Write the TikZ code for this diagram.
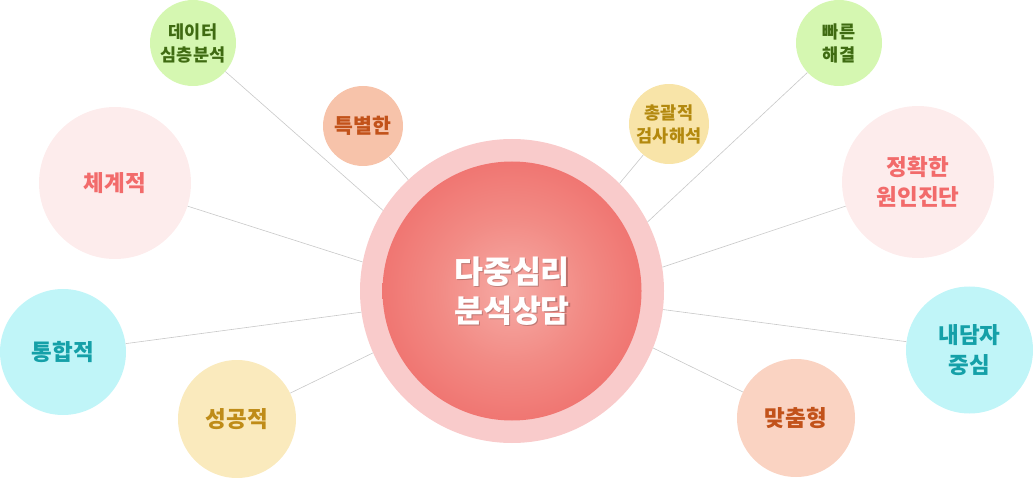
\documentclass[tikz,border=0pt]{standalone}
\usepackage{fontspec}
\setmainfont{Noto Sans CJK KR}
\definecolor{lineg}{HTML}{C8C8C8}
\definecolor{ringc}{HTML}{F9CBCB}
\definecolor{cin}{HTML}{F6ABA5}
\definecolor{cmid}{HTML}{F28B85}
\definecolor{cout}{HTML}{F07672}
\definecolor{gfill}{HTML}{D5F7B1}\definecolor{gtext}{HTML}{3F6B12}
\definecolor{ofill}{HTML}{F7C3AA}\definecolor{otext}{HTML}{C2521A}
\definecolor{o2fill}{HTML}{FAD3C2}
\definecolor{pfill}{HTML}{FDECEC}\definecolor{ptext}{HTML}{F26B6B}
\definecolor{cfill}{HTML}{C0F5F8}\definecolor{ctext}{HTML}{15A0A8}
\definecolor{yfill}{HTML}{FAEABD}\definecolor{ytext}{HTML}{BF8C18}
\definecolor{y2fill}{HTML}{F8E4A8}\definecolor{y2text}{HTML}{B3890E}
\pgfdeclareradialshading{ballshade}{\pgfpoint{0bp}{0bp}}{color(0bp)=(cin); color(14bp)=(cmid); color(25bp)=(cout); color(50bp)=(cout)}
\tikzset{
  sat/.style={circle, inner sep=0pt, align=center},
  fsmall/.style={font=\bfseries\fontsize{17.5}{23}\selectfont},
  fmid/.style={font=\bfseries\fontsize{20.5}{26}\selectfont},
  fbig/.style={font=\bfseries\fontsize{22.5}{30}\selectfont},
  fmain/.style={font=\bfseries\fontsize{31.5}{39}\selectfont},
  link/.style={draw=lineg, line width=0.6pt},
}
\begin{document}
\begin{tikzpicture}[x=1pt,y=-1pt]
\useasboundingbox (0,0) rectangle (1033,478);
% main
\node[circle, fill=ringc, minimum size=304pt, inner sep=0pt] (main) at (512,291) {};
\node[circle, shading=ballshade, minimum size=259pt, inner sep=0pt] (core) at (512,291) {};
\node[fmain, text=black, text opacity=0.22, align=center] (mainshadow) at (513.5,292.5) {다중심리\\분석상담};
\node[fmain, text=white, align=center] (maintext) at (512,291) {다중심리\\분석상담};
% satellites
\node[sat, fsmall, fill=gfill, text=gtext, minimum size=86pt] (data) at (193,43) {데이터\\심층분석};
\node[sat, fmid, fill=ofill, text=otext, minimum size=80pt] (spec) at (363,126) {특별한};
\node[sat, fbig, fill=pfill, text=ptext, minimum size=152pt] (sys) at (115,183) {체계적};
\node[sat, fbig, fill=cfill, text=ctext, minimum size=126pt] (integ) at (63,352) {통합적};
\node[sat, fbig, fill=yfill, text=ytext, minimum size=118pt] (succ) at (237,419) {성공적};
\node[sat, fsmall, fill=y2fill, text=y2text, minimum size=80pt] (total) at (669,124) {총괄적\\검사해석};
\node[sat, fsmall, fill=gfill, text=gtext, minimum size=86pt] (fast) at (839,43) {빠른\\해결};
\node[sat, fbig, fill=pfill, text=ptext, minimum size=152pt] (exact) at (918,182) {정확한\\원인진단};
\node[sat, fbig, fill=cfill, text=ctext, minimum size=127pt] (client) at (969.5,350) {내담자\\중심};
\node[sat, fbig, fill=o2fill, text=otext, minimum size=118pt] (custom) at (796,418) {맞춤형};
% connectors
\draw[link] (data) -- (main.148.5);
\draw[link] (spec) -- (main.133);
\draw[link] (sys) -- (main.169.7);
\draw[link] (integ) -- (main.188.3);
\draw[link] (succ) -- (main.204);
\draw[link] (total) -- (main.45.3);
\draw[link] (fast) -- (main.27.7);
\draw[link] (exact) -- (main.9.8);
\draw[link] (client) -- (main.-7.5);
\draw[link] (custom) -- (main.-22);
\end{tikzpicture}
\end{document}
